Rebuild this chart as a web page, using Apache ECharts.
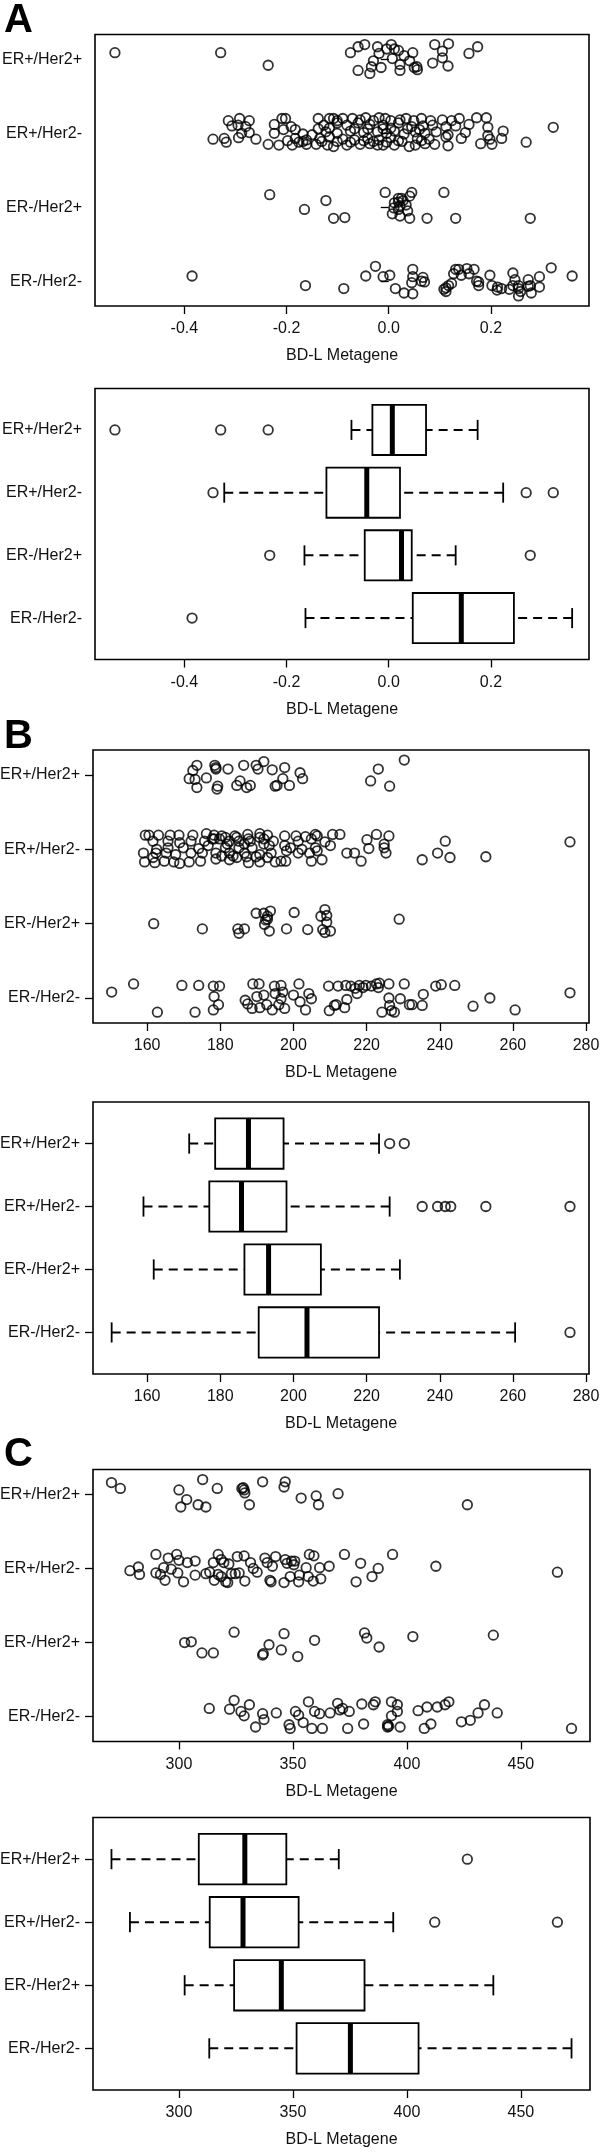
<!DOCTYPE html>
<html><head><meta charset="utf-8">
<script src="https://cdn.jsdelivr.net/npm/echarts@6/dist/echarts.min.js"></script>
<style>html,body{margin:0;padding:0;background:#fff}#chart{width:600px;height:2155px}</style>
</head><body><div id="chart"></div>
<script>
// Groups, bottom (position 1) to top (position 4)
const groupNames = ['ER-/Her2-', 'ER-/Her2+', 'ER+/Her2-', 'ER+/Her2+'];
const axisTitle = 'BD-L Metagene';
const panelLetters = ['A', 'B', 'C'];

// x-axis ticks and limits
const xTicksA = [-0.4, -0.2, 0, 0.2];
const xTicksB = [160, 180, 200, 220, 240, 260, 280];
const xTicksC = [300, 350, 400, 450];
const xLimA = [-0.575, 0.392];
const xLimB = [145.2, 280.8];
const xLimC = [262.3, 480.3];

// ---- Panel A strip data: [value, vertical jitter] ----
const stripA_ERnHn = [[-0.385,0.07],[-0.163,-0.06],[-0.088,-0.10],[-0.045,0.07],[-0.026,0.20],[-0.011,0.06],[0.002,0.08],[0.013,-0.10],[0.030,-0.16],[0.047,0.16],[0.047,0.06],[0.045,-0.02],[0.047,-0.17],[0.067,0.05],[0.070,-0.01],[0.064,0],[0.108,-0.11],[0.112,-0.09],[0.117,-0.06],[0.123,-0.03],[0.131,0.16],[0.137,0.16],[0.142,0.08],[0.153,0.17],[0.167,0.16],[0.172,0],[0.176,-0.06],[0.198,0.08],[0.202,-0.06],[0.213,-0.08],[0.212,-0.12],[0.221,-0.10],[0.243,0.11],[0.247,0.02],[0.243,-0.06],[0.236,-0.11],[0.254,-0.06],[0.254,-0.20],[0.258,-0.14],[0.273,0.02],[0.277,-0.06],[0.279,-0.16],[0.295,0.06],[0.295,-0.08],[0.318,0.18],[0.359,0.07],[0.112,-0.14],[0.157,0.10],[0.127,0.10],[0.176,-0.01],[0.273,-0.07],[0.254,-0.10]];
const stripA_ERnHp = [[-0.233,0.17],[-0.123,0.09],[-0.165,-0.03],[-0.108,-0.15],[-0.086,-0.14],[-0.007,0.20],[0.019,0.12],[0.025,0.12],[0.045,0.20],[0.041,0.15],[0.011,0.06],[0.034,0.03],[0.022,0.02],[0.010,-0.01],[0.019,-0.03],[0.037,-0.05],[0.007,-0.09],[0.022,-0.12],[0.041,-0.15],[0.075,-0.15],[0.108,0.20],[0.131,-0.15],[0.277,-0.15],[0.019,0.07],[0.028,0.09]];
const stripA_ERpHn = [[-0.314,0.17],[-0.292,0.20],[-0.273,0.17],[-0.209,0.20],[-0.202,0.20],[-0.138,0.20],[-0.116,0.20],[-0.108,0.20],[-0.090,0.20],[-0.071,0.20],[-0.045,0.21],[-0.019,0.21],[0.004,0.17],[0.034,0.20],[0.064,0.20],[0.105,0.18],[0.138,0.20],[0.172,0.21],[0.191,0.21],
[-0.307,0.10],[-0.280,0.09],[-0.295,0.11],[-0.224,0.12],[-0.191,0.09],[-0.127,0.11],[-0.101,0.14],[-0.082,0.11],[-0.060,0.14],[-0.037,0.12],[-0.011,0.11],[0.019,0.14],[0.045,0.09],[0.067,0.10],[0.086,0.11],[0.112,0.09],[0.131,0.10],[0.157,0.12],[0.194,0.08],[0.322,0.08],
[-0.288,0],[-0.273,0.01],[-0.224,0],[-0.206,0.05],[-0.168,-0.01],[-0.150,-0.02],[-0.123,0.02],[-0.101,0],[-0.075,0.03],[-0.049,0.01],[-0.022,0.02],[-0.004,0],[0.011,0.03],[0.030,-0.01],[0.052,0.02],[0.071,0],[0.093,0.02],[0.116,-0.02],[0.150,0.01],[0.194,-0.03],[0.224,0.03],
[-0.344,-0.08],[-0.322,-0.07],[-0.294,-0.06],[-0.260,-0.08],[-0.183,-0.07],[-0.161,-0.09],[-0.135,-0.07],[-0.116,-0.05],[-0.090,-0.08],[-0.067,-0.09],[-0.041,-0.07],[-0.019,-0.09],[0.004,-0.06],[0.019,-0.10],[0.056,-0.07],[0.079,-0.08],[0.112,-0.05],[0.142,-0.07],[0.198,-0.08],[0.221,-0.07],
[-0.318,-0.12],[-0.236,-0.15],[-0.215,-0.16],[-0.189,-0.16],[-0.176,-0.12],[-0.161,-0.15],[-0.142,-0.15],[-0.120,-0.16],[-0.108,-0.18],[-0.082,-0.16],[-0.056,-0.15],[-0.037,-0.14],[-0.022,-0.16],[-0.011,-0.16],[0.011,-0.16],[0.040,-0.18],[0.052,-0.16],[0.071,-0.14],[0.090,-0.15],[0.116,-0.17],[0.180,-0.14],[0.202,-0.15],[0.269,-0.12],
[-0.101,0.17],[-0.056,0.18],[-0.030,0.17],[-0.007,0.20],[0.022,0.18],[0.049,0.17],[0.082,0.17],[0.123,0.17],[-0.183,0.05],[-0.138,0.06],[-0.116,0.07],[-0.067,0.06],[-0.041,0.06],[-0.011,0.06],[0.004,0.07],[0.037,0.06],[0.060,0.05],
[-0.198,-0.10],[-0.168,-0.11],[-0.131,-0.11],[-0.101,-0.11],[-0.075,-0.12],[-0.049,-0.10],[-0.030,-0.11],[-0.004,-0.12],[0.026,-0.11],[0.064,-0.10]];
const stripA_ERpHp = [[-0.536,0.09],[-0.329,0.09],[-0.236,-0.08],[-0.075,0.09],[-0.060,0.17],[-0.047,0.20],[-0.060,-0.15],[-0.037,-0.19],[-0.030,-0.02],[-0.022,0.17],[-0.019,0.08],[-0.015,-0.11],[-0.004,0.14],[0.005,0.20],[0.011,0.14],[0.019,0.12],[0.007,0.01],[0.022,-0.07],[0.022,-0.15],[0.030,0.05],[0.041,-0.02],[0.047,0.09],[0.050,-0.11],[0.056,-0.14],[0.055,-0.10],[0.090,0.20],[0.105,0.11],[0.117,0.21],[0.086,-0.05],[0.105,0.02],[0.116,-0.09],[0.157,0.08],[0.174,0.17],[-0.034,-0.10]];

// ---- Panel B strip data ----
const stripB_ERnHn = [[150.3,0.08],[156.3,0.19],[162.8,-0.19],[169.5,0.17],[174.1,0.17],[173.1,-0.19],[178.1,0.16],[179.8,0.16],[178.3,0.02],[179.5,-0.09],[178.1,-0.16],[186.8,-0.03],[187.5,-0.08],[188.7,-0.14],[188.9,0.19],[190.6,0.19],[190.0,0.02],[191.9,0.04],[190.8,-0.13],[192.7,-0.09],[194.2,-0.16],[194.8,0.16],[196.6,0.17],[195.0,0.06],[197.1,0.08],[196.6,-0.01],[196.0,-0.09],[197.6,-0.14],[200.0,0.04],[201.5,0.19],[201.8,-0.05],[203.3,-0.16],[204.2,0.06],[204.9,-0.01],[209.6,0.16],[212.2,0.16],[209.8,-0.17],[211.2,-0.10],[211.7,-0.09],[214.0,-0.13],[214.6,-0.02],[214.3,0.17],[215.7,0.16],[216.9,0.13],[217.4,0.06],[218.0,0.17],[219.0,0.14],[221.3,0.16],[222.7,0.19],[223.5,0.20],[226.1,0.19],[226.1,0],[226.3,-0.10],[226.8,-0.17],[224.2,-0.19],[227.6,-0.19],[229.2,-0.01],[230.3,0.19],[231.7,-0.09],[232.4,-0.09],[235.5,0.05],[235.2,-0.10],[238.9,0.16],[240.4,0.18],[244.1,0.17],[249.1,-0.11],[253.7,0],[260.6,-0.16],[275.6,0.07],[223.2,0.14],[219.8,0.17]];
const stripB_ERnHp = [[161.8,0],[175.1,-0.07],[184.8,-0.07],[185.1,-0.13],[186.6,-0.07],[189.8,0.14],[191.9,0.14],[193.7,0.17],[192.4,0.05],[192.9,0.06],[192.1,-0.01],[193.4,-0.10],[198.1,-0.07],[200.2,0.15],[203.9,-0.08],[207.5,0.10],[208.6,0.19],[209.1,0.11],[209.1,0.02],[208.6,-0.12],[210.1,-0.10],[228.9,0.06],[192.9,0.10],[208.0,-0.08]];
const stripB_ERpHn = [[159.5,0.19],[160.5,0.19],[163.1,0.19],[166.3,0.19],[168.7,0.19],[172.5,0.19],[176.2,0.21],[178.3,0.19],[180.4,0.18],[184.0,0.18],[187.5,0.20],[190.8,0.21],[192.9,0.19],[197.6,0.18],[200.7,0.18],[203.3,0.17],[206.0,0.20],[206.5,0.18],[210.7,0.20],[212.7,0.20],[222.7,0.20],[226.1,0.18],
[161.6,0.11],[165.7,0.11],[168.9,0.09],[172.0,0.11],[175.7,0.11],[177.8,0.14],[179.8,0.14],[182.5,0.11],[185.1,0.11],[188.2,0.11],[191.9,0.14],[194.5,0.11],[197.6,0.05],[201.3,0.11],[204.9,0.14],[208.6,0.10],[220.1,0.13],[224.8,0.07],[241.5,0.11],[275.6,0.10],
[162.6,0],[165.7,0.02],[169.9,0.02],[174.1,0.01],[176.7,0.05],[181.4,0.02],[185.1,0.02],[188.7,0.02],[193.4,0.05],[199.2,0.02],[202.3,0],[206.0,0.02],[210.1,0.05],[220.6,0.01],[224.8,0.02],
[159.0,-0.05],[162.4,-0.05],[165.2,-0.05],[167.8,-0.07],[172.0,-0.05],[175.1,-0.05],[178.8,-0.05],[182.5,-0.05],[186.6,-0.05],[190.8,-0.07],[193.9,-0.05],[198.1,-0.02],[201.3,-0.05],[204.4,-0.05],[206.5,-0.02],[214.6,-0.05],[216.7,-0.05],[225.3,-0.05],[239.4,-0.05],
[159.3,-0.17],[161.6,-0.11],[162.1,-0.18],[164.7,-0.16],[167.3,-0.17],[168.9,-0.19],[171.5,-0.17],[174.6,-0.16],[178.8,-0.13],[182.5,-0.14],[184.5,-0.11],[187.7,-0.18],[190.8,-0.17],[195.0,-0.17],[196.6,-0.16],[197.9,-0.16],[204.9,-0.16],[207.8,-0.14],[218.5,-0.16],[235.2,-0.14],[242.8,-0.11],[252.6,-0.10],
[178.3,0.14],[181.4,0.16],[184.5,0.16],[187.7,0.14],[190.8,0.16],[180.4,-0.09],[183.5,-0.09],[187.2,-0.10],[189.8,-0.10],[192.9,-0.11],[181.9,0.07],[186.6,0.07],[191.9,0.07]];
const stripB_ERpHp = [[230.3,0.20],[223.2,0.08],[221.1,-0.08],[226.3,-0.15],[173.6,0.13],[172.5,0.06],[171.5,-0.05],[173.1,-0.06],[173.6,-0.17],[176.2,-0.04],[178.5,0.13],[178.8,0.08],[179.3,-0.15],[179.1,-0.19],[182.1,0.08],[185.4,-0.08],[184.5,-0.14],[186.4,0.13],[188.2,-0.14],[187.2,-0.17],[189.8,0.13],[190.3,0.08],[191.9,0.18],[194.2,0.07],[195.0,-0.15],[195.5,-0.14],[197.1,-0.05],[197.6,0.10],[198.9,-0.14],[201.8,0.03],[202.5,-0.05],[178.8,0.10]];

// ---- Panel C strip data ----
const stripC_ERnHn = [[313.3,0.11],[324.2,0.22],[322.2,0.10],[327.2,0.07],[328.6,0.01],[330.9,0.16],[333.6,-0.14],[336.7,0.04],[337.3,-0.04],[342.7,0.05],[348.3,-0.11],[348.8,-0.16],[351.1,0.07],[352.5,0.02],[354.5,-0.08],[356.8,0.20],[358.3,-0.16],[359.5,0.07],[361.7,0.04],[362.9,-0.16],[366.3,0.05],[369.6,0.18],[370.6,0.09],[371.8,0.11],[374.7,0.07],[374.0,-0.16],[380.2,0.17],[381.0,-0.10],[385.3,0.16],[386.1,0.20],[391.5,-0.14],[392.0,-0.13],[393.2,0.20],[393.2,0.01],[395.8,0.16],[395.8,0.07],[397.0,-0.14],[404.9,0.08],[407.6,-0.16],[408.8,0.13],[410.5,-0.10],[413.3,0.13],[416.7,0.16],[418.4,0.20],[423.9,-0.07],[427.8,-0.05],[431.2,0.05],[434.0,0.16],[439.6,0.05],[472.2,-0.16],[391.5,-0.11]];
const stripC_ERnHp = [[302.5,0],[305.4,0.01],[310.1,-0.14],[315.1,-0.14],[324.2,0.14],[336.7,-0.17],[337.0,-0.15],[339.5,-0.03],[344.9,-0.10],[346.1,0.12],[352.1,-0.19],[359.5,0.03],[381.4,0.13],[382.4,0.06],[387.8,-0.06],[402.6,0.08],[437.9,0.10]];
const stripC_ERpHn = [[289.9,0.19],[295.3,0.14],[299.0,0.19],[300.0,0.11],[303.7,0.08],[307.1,0.10],[278.5,-0.03],[282.2,0.02],[282.7,-0.08],[289.9,-0.06],[291.9,-0.08],[293.3,0.01],[293.9,-0.16],[296.6,-0.01],[299.5,-0.06],[302.0,-0.18],[307.1,-0.09],[311.8,-0.07],[313.5,-0.05],[315.1,0.08],[315.5,-0.16],[317.2,0.19],[317.2,-0.08],[318.5,0.12],[319.7,0.08],[320.5,-0.18],[321.9,0.06],[321.4,-0.19],[323.0,-0.07],[325.6,0.16],[326.4,-0.06],[328.6,0.17],[328.9,-0.17],[331.4,0.08],[332.6,0],[334.3,-0.05],[337.7,0.14],[338.7,0.08],[341.0,0.03],[339.9,-0.16],[340.4,-0.18],[342.4,0.16],[346.1,-0.19],[346.6,0.12],[347.4,0.07],[348.8,-0.11],[349.4,0.10],[350.4,0.05],[352.5,-0.18],[352.8,-0.09],[350.8,0.10],[355.8,0.01],[357.2,0.19],[356.7,-0.11],[359.2,0.17],[358.9,-0.17],[361.7,0.01],[362.2,-0.14],[365.9,0.03],[372.6,0.19],[377.7,-0.18],[379.7,0.07],[384.7,-0.11],[387.4,0],[393.7,0.19],[412.7,0.03],[466.0,-0.05],[318.5,-0.11],[324.7,-0.07]];
const stripC_ERpHp = [[270.4,0.16],[274.3,0.08],[300.0,0.06],[303.4,-0.07],[300.8,-0.17],[308.4,-0.14],[311.8,-0.17],[310.4,0.20],[316.8,0.08],[327.6,0.08],[328.6,0.06],[328.9,0.02],[330.9,-0.14],[336.7,0.17],[346.6,0.17],[346.1,0.10],[353.6,-0.05],[360.2,-0.02],[361.2,-0.14],[369.8,0.01],[426.5,-0.14],[328.2,0.09]];

// ---- Box statistics: [lower whisker, Q1, median, Q3, upper whisker], group order ----
const boxA = [[-0.163,0.047,0.142,0.245,0.359],[-0.165,-0.047,0.025,0.045,0.131],[-0.322,-0.122,-0.043,0.022,0.224],[-0.073,-0.032,0.007,0.073,0.174]];
const outA = [[-0.385],[-0.233,0.277],[-0.344,0.269,0.322],[-0.536,-0.329,-0.236]];
const boxB = [[150.3,190.5,203.7,223.4,260.6],[161.8,186.6,193.2,207.5,229.1],[159.0,177.0,185.8,198.1,226.3],[171.5,178.6,187.7,197.3,223.4]];
const outB = [[275.6],[],[235.2,239.4,241.5,243.0,252.6,275.6],[226.3,230.3]];
const boxC = [[313.3,351.6,375.2,405.1,472.2],[302.5,324.2,344.9,381.4,437.9],[278.5,313.5,328.1,352.5,394.0],[270.4,308.7,328.9,347.1,370.1]];
const outC = [[],[],[412.2,466.0],[426.5]];

// ---- layout (pixels) ----
const grids = [
  {left: 95, top: 34.5, width: 494, height: 271.5},
  {left: 95, top: 388.5, width: 494, height: 271},
  {left: 93, top: 750, width: 496, height: 273},
  {left: 93, top: 1102, width: 496, height: 272},
  {left: 93, top: 1469.5, width: 497, height: 272},
  {left: 93, top: 1817.5, width: 497, height: 272.5}
];
const letterTops = [1, 717, 1435];
const FONT = '"Liberation Sans", Arial, Helvetica, sans-serif';
const FS = 16;

const chart = echarts.init(document.getElementById('chart'), null, {renderer: 'canvas'});

const panelDefs = [
  {lim: xLimA, ticks: xTicksA, fmt: v => v.toFixed(1), kind: 'strip', strips: [stripA_ERnHn, stripA_ERnHp, stripA_ERpHn, stripA_ERpHp]},
  {lim: xLimA, ticks: xTicksA, fmt: v => v.toFixed(1), kind: 'box', box: boxA, out: outA},
  {lim: xLimB, ticks: xTicksB, fmt: v => String(v), kind: 'strip', strips: [stripB_ERnHn, stripB_ERnHp, stripB_ERpHn, stripB_ERpHp]},
  {lim: xLimB, ticks: xTicksB, fmt: v => String(v), kind: 'box', box: boxB, out: outB},
  {lim: xLimC, ticks: xTicksC, fmt: v => String(v), kind: 'strip', strips: [stripC_ERnHn, stripC_ERnHp, stripC_ERpHn, stripC_ERpHp]},
  {lim: xLimC, ticks: xTicksC, fmt: v => String(v), kind: 'box', box: boxC, out: outC}
];

const lineCol = '#000';
const textCol = '#111';
const circleStyle = {color: 'rgba(0,0,0,0)', borderColor: '#000', borderWidth: 1.8};

function renderBox(params, api) {
  const p = api.value(0);
  const lo = api.value(1), q1 = api.value(2), md = api.value(3), q3 = api.value(4), hi = api.value(5);
  const P = (x, y) => api.coord([x, y]);
  const hw = 0.4, cw = 0.16;
  const tl = P(q1, p + hw), br = P(q3, p - hw);
  const ln = (a, b, st) => ({type: 'line', shape: {x1: a[0], y1: a[1], x2: b[0], y2: b[1]}, style: st});
  const solid = {stroke: lineCol, lineWidth: 1.8};
  const dash = {stroke: lineCol, lineWidth: 2, lineDash: [9, 6]};
  return {type: 'group', children: [
    ln(P(lo, p), P(q1, p), dash),
    ln(P(hi, p), P(q3, p), dash),
    ln(P(lo, p + cw), P(lo, p - cw), solid),
    ln(P(hi, p + cw), P(hi, p - cw), solid),
    {type: 'rect', shape: {x: tl[0], y: tl[1], width: br[0] - tl[0], height: br[1] - tl[1]}, style: {fill: '#fff', stroke: lineCol, lineWidth: 1.8}},
    ln(P(md, p + hw), P(md, p - hw), {stroke: lineCol, lineWidth: 5})
  ]};
}

const option = {
  backgroundColor: '#fff',
  animation: false,
  grid: [], xAxis: [], yAxis: [], series: [],
  graphic: panelLetters.map((t, i) => ({
    type: 'text', left: 4, top: letterTops[i],
    style: {text: t, font: 'bold 40px ' + FONT, fill: '#000'}
  }))
};

panelDefs.forEach((pd, i) => {
  const g = grids[i];
  option.grid.push({left: g.left, top: g.top, width: g.width, height: g.height, show: true,
    borderColor: lineCol, borderWidth: 1.6, backgroundColor: 'rgba(0,0,0,0)', containLabel: false,
    outerBoundsMode: 'none'});
  option.xAxis.push({
    type: 'value', gridIndex: i, min: pd.lim[0], max: pd.lim[1],
    axisLine: {show: false}, splitLine: {show: false},
    axisTick: {show: true, length: 8, customValues: pd.ticks, lineStyle: {color: lineCol, width: 1.3}},
    axisLabel: {customValues: pd.ticks, formatter: pd.fmt, margin: 15, fontSize: FS, color: textCol, fontFamily: FONT},
    name: axisTitle, nameLocation: 'middle', nameGap: 42,
    nameTextStyle: {fontSize: FS, color: textCol, fontFamily: FONT}
  });
  const yl = pd.kind === 'strip' ? [0.664, 4.336] : [0.34, 4.66];
  option.yAxis.push({
    type: 'value', gridIndex: i, min: yl[0], max: yl[1],
    axisLine: {show: false}, splitLine: {show: false},
    axisTick: {show: true, length: 8, customValues: [1, 2, 3, 4], lineStyle: {color: lineCol, width: 1.3}},
    axisLabel: {customValues: [1, 2, 3, 4], formatter: v => groupNames[Math.round(v) - 1], margin: 13, fontSize: FS, color: textCol, fontFamily: FONT}
  });
  if (pd.kind === 'strip') {
    const data = [];
    pd.strips.forEach((arr, k) => arr.forEach(([x, j]) => data.push([x, k + 1 + j])));
    option.series.push({type: 'scatter', xAxisIndex: i, yAxisIndex: i, data, symbol: 'circle', symbolSize: 9.5,
      itemStyle: circleStyle, silent: true, emphasis: {disabled: true}});
  } else {
    option.series.push({type: 'custom', xAxisIndex: i, yAxisIndex: i, silent: true,
      data: pd.box.map((s, k) => [k + 1].concat(s)), encode: {x: [1, 2, 3, 4, 5], y: 0}, renderItem: renderBox});
    const od = [];
    pd.out.forEach((arr, k) => arr.forEach(x => od.push([x, k + 1])));
    option.series.push({type: 'scatter', xAxisIndex: i, yAxisIndex: i, data: od, symbol: 'circle', symbolSize: 9.5,
      itemStyle: circleStyle, silent: true, z: 5, emphasis: {disabled: true}});
  }
});

chart.setOption(option);
</script>
</body></html>
